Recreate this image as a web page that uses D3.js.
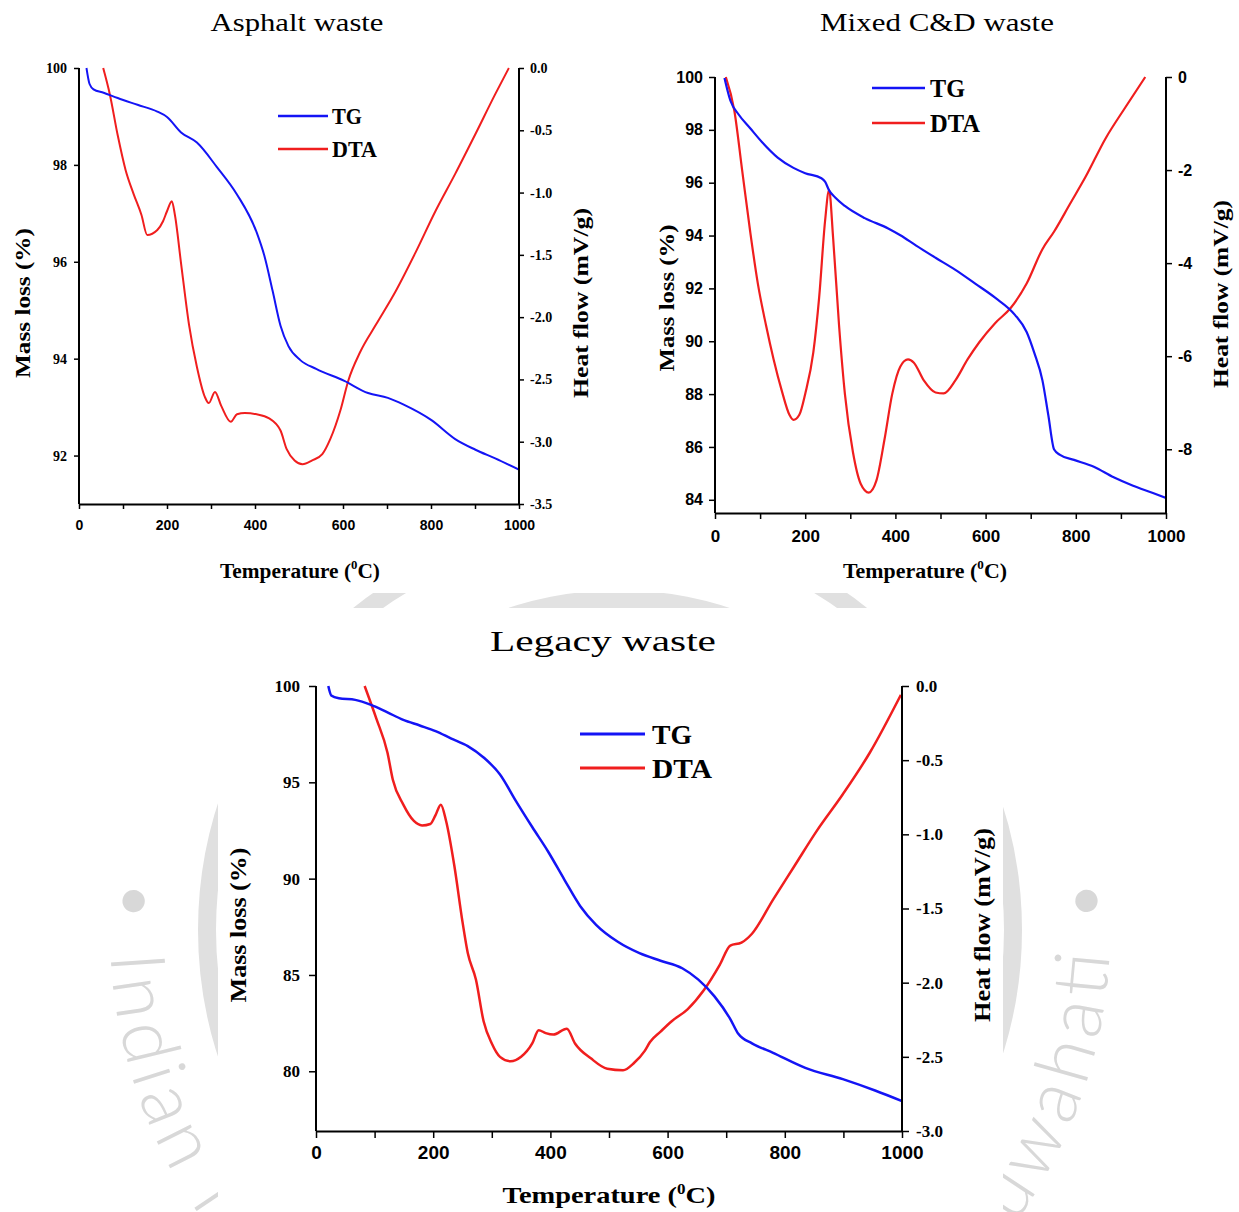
<!DOCTYPE html>
<html>
<head>
<meta charset="utf-8">
<script src="https://cdn.jsdelivr.net/npm/d3@7"></script>
<style>
  body { margin: 0; background: #fff; }
  svg { display: block; }
</style>
</head>
<body>
<svg id="fig" width="1239" height="1212"></svg>
<script>
// ---- data ----
var tempTicks = [0, 200, 400, 600, 800, 1000];
var tempMinor = [0, 100, 200, 300, 400, 500, 600, 700, 800, 900, 1000];

// Asphalt waste
var asphaltMassTicks = [92, 94, 96, 98, 100];
var asphaltHeatTicks = [0, -0.5, -1.0, -1.5, -2.0, -2.5, -3.0, -3.5];
var asphaltTgT = [17, 24, 33, 56, 88, 133, 178, 200, 232, 268, 313, 359, 404, 422, 440, 458, 476, 503, 539, 603, 657, 702, 738, 801, 855, 901, 946, 1000];
var asphaltTg = [100.0, 99.67, 99.56, 99.49, 99.38, 99.24, 99.10, 98.99, 98.67, 98.46, 97.96, 97.39, 96.60, 96.1, 95.4, 94.68, 94.26, 93.97, 93.79, 93.54, 93.29, 93.19, 93.05, 92.73, 92.34, 92.12, 91.94, 91.71];
var asphaltDtaT = [55, 70, 88, 106, 124, 142, 155, 178, 191, 200, 211, 218, 232, 250, 268, 286, 295, 309, 323, 345, 359, 377, 404, 431, 458, 472, 490, 508, 530, 553, 571, 594, 612, 639, 675, 720, 765, 810, 855, 901, 946, 977];
var asphaltDta = [0, -0.21, -0.54, -0.82, -1.01, -1.18, -1.34, -1.30, -1.23, -1.15, -1.07, -1.18, -1.57, -2.06, -2.40, -2.64, -2.69, -2.60, -2.71, -2.84, -2.78, -2.77, -2.78, -2.81, -2.91, -3.06, -3.15, -3.18, -3.15, -3.10, -2.98, -2.75, -2.51, -2.28, -2.06, -1.79, -1.48, -1.15, -0.85, -0.53, -0.21, 0.0];

// Mixed C&D waste
var mixedMassTicks = [84, 86, 88, 90, 92, 94, 96, 98, 100];
var mixedHeatTicks = [0, -2, -4, -6, -8];
var mixedTgT = [21, 34, 52, 78, 104, 139, 174, 200, 236, 244, 253, 266, 288, 332, 384, 411, 446, 489, 533, 577, 621, 665, 691, 708, 726, 739, 752, 765, 796, 840, 884, 927, 971, 1000];
var mixedTg = [99.96, 99.11, 98.59, 98.06, 97.54, 96.95, 96.56, 96.36, 96.17, 96.04, 95.71, 95.45, 95.12, 94.66, 94.27, 94.01, 93.62, 93.16, 92.70, 92.18, 91.65, 91.00, 90.35, 89.56, 88.52, 87.21, 85.90, 85.70, 85.51, 85.25, 84.85, 84.53, 84.26, 84.07];
var mixedDtaT = [24, 43, 60, 78, 95, 113, 130, 148, 165, 174, 187, 200, 218, 231, 244, 253, 262, 275, 288, 306, 323, 341, 358, 376, 393, 411, 428, 441, 463, 489, 507, 533, 560, 586, 621, 656, 691, 726, 752, 787, 822, 866, 910, 954];
var mixedDta = [0, -0.73, -1.99, -3.32, -4.44, -5.33, -6.07, -6.74, -7.26, -7.37, -7.26, -6.81, -5.92, -4.73, -3.10, -2.43, -3.47, -5.33, -6.81, -8.07, -8.74, -8.93, -8.67, -7.78, -6.81, -6.22, -6.07, -6.14, -6.52, -6.78, -6.80, -6.52, -6.07, -5.70, -5.29, -4.96, -4.44, -3.70, -3.32, -2.73, -2.14, -1.32, -0.65, 0];

// Legacy waste
var legacyMassTicks = [80, 85, 90, 95, 100];
var legacyHeatTicks = [0, -0.5, -1.0, -1.5, -2.0, -2.5, -3.0];
var legacyTgT = [21, 26, 39, 67, 94, 122, 149, 177, 204, 231, 259, 286, 314, 341, 369, 396, 424, 451, 478, 515, 552, 588, 625, 652, 680, 707, 721, 744, 780, 835, 899, 954, 1000];
var legacyTg = [100, 99.51, 99.36, 99.28, 99.02, 98.63, 98.24, 97.95, 97.66, 97.27, 96.88, 96.29, 95.41, 94.04, 92.68, 91.41, 89.94, 88.57, 87.60, 86.72, 86.13, 85.74, 85.35, 84.77, 83.89, 82.71, 81.93, 81.45, 80.96, 80.18, 79.59, 79.00, 78.45];
var legacyDtaT = [83, 103, 122, 131, 149, 167, 181, 195, 204, 213, 222, 236, 250, 259, 273, 286, 300, 314, 332, 350, 369, 380, 392, 405, 428, 442, 469, 497, 524, 543, 561, 570, 588, 607, 634, 662, 689, 707, 726, 744, 780, 817, 854, 899, 945, 998];
var legacyDta = [0, -0.22, -0.45, -0.63, -0.80, -0.91, -0.94, -0.93, -0.87, -0.80, -0.91, -1.21, -1.59, -1.80, -1.98, -2.26, -2.41, -2.50, -2.53, -2.50, -2.41, -2.32, -2.34, -2.35, -2.31, -2.41, -2.51, -2.58, -2.59, -2.54, -2.46, -2.40, -2.33, -2.26, -2.18, -2.05, -1.88, -1.75, -1.73, -1.67, -1.44, -1.21, -0.98, -0.73, -0.45, -0.06];

var SERIF = '"Liberation Serif", "Times New Roman", serif';
var SANS = '"Liberation Sans", Arial, sans-serif';
var BLUE = '#1414f5', RED = '#f01e1e';

var svg = d3.select('#fig');

// squeeze/stretch a text element horizontally so it spans w pixels
function fit(text, w) {
    var cur = text.node().getComputedTextLength();
    if (cur > 0) text.attr('transform', 'scale(' + (w / cur) + ',1)');
    return text;
}

function label(parent, str, x, y, opts) {
    var g = parent.append('g').attr('transform', 'translate(' + x + ',' + y + ')' + (opts.rotate ? ' rotate(' + opts.rotate + ')' : ''));
    var t = g.append('text')
        .attr('text-anchor', opts.anchor || 'middle')
        .attr('dy', '0.35em')
        .attr('font-family', opts.family || SERIF)
        .attr('font-weight', opts.weight || 'bold')
        .attr('font-size', opts.size)
        .attr('fill', '#000');
    if (opts.degree) {
        t.append('tspan').text('Temperature (');
        t.append('tspan').attr('font-size', opts.size * 0.6).attr('dy', -opts.size * 0.4).text('0');
        t.append('tspan').attr('dy', opts.size * 0.4).text('C)');
    } else {
        t.text(str);
    }
    if (opts.width) fit(t, opts.width);
    return t;
}

function drawWatermark() {
    var wm = svg.append('g');
    var cx = 610, cy = 930, r = 500, a = 6 * Math.PI / 180;
    // outer band of the seal and the top of its central emblem
    wm.append('circle').attr('cx', cx).attr('cy', cy).attr('r', 403)
        .attr('fill', 'none').attr('stroke', '#e0e0e0').attr('stroke-width', 18);
    wm.append('circle').attr('cx', 619).attr('cy', 940).attr('r', 350).attr('fill', '#e2e2e2');
    var x0 = cx - r * Math.cos(a), y0 = cy - r * Math.sin(a);
    var x1 = cx + r * Math.cos(a);
    svg.append('defs').append('path').attr('id', 'ring')
        .attr('d', 'M' + x0 + ',' + y0 + ' A' + r + ',' + r + ' 0 1 0 ' + x1 + ',' + y0);
    wm.append('text')
        .attr('font-family', 'Lato, "Open Sans", sans-serif')
        .attr('font-weight', 300)
        .attr('font-size', 76)
        .attr('fill', '#d8d8d8')
        .append('textPath').attr('href', '#ring')
        .attr('textLength', r * (Math.PI + 2 * a))
        .attr('lengthAdjust', 'spacing')
        .text('\u2022 Indian Institute of Technology Guwahati \u2022');
    // white backgrounds of the pasted figures
    svg.append('rect').attr('x', 0).attr('y', 0).attr('width', 1239).attr('height', 593).attr('fill', '#fff');
    svg.append('rect').attr('x', 218).attr('y', 608).attr('width', 785).attr('height', 604).attr('fill', '#fff');
}

function drawPanel(p) {
    var b = p.box;
    var g = svg.append('g');
    var x = d3.scaleLinear().domain([0, 1000]).range([b.l, b.r]);
    var yM = d3.scaleLinear().domain(p.massDomain).range([b.b, b.t]);
    var yH = d3.scaleLinear().domain(p.heatDomain).range([b.b, b.t]);

    label(g, p.title, p.titleX, p.titleY, {size: p.titleSize, weight: 'normal', width: p.titleW});

    var clipId = 'clip' + p.id;
    g.append('clipPath').attr('id', clipId).append('rect')
        .attr('x', b.l).attr('y', b.t - 2).attr('width', b.r - b.l).attr('height', b.b - b.t + 2);

    var lineM = d3.line().x(function(d) { return x(d[0]); }).y(function(d) { return yM(d[1]); }).curve(d3.curveMonotoneX);
    var lineH = d3.line().x(function(d) { return x(d[0]); }).y(function(d) { return yH(d[1]); }).curve(d3.curveMonotoneX);

    var plot = g.append('g').attr('clip-path', 'url(#' + clipId + ')');
    plot.append('path').datum(d3.zip(p.dtaT, p.dta)).attr('d', lineH)
        .attr('fill', 'none').attr('stroke', RED).attr('stroke-width', p.lw).attr('stroke-linejoin', 'round');
    plot.append('path').datum(d3.zip(p.tgT, p.tg)).attr('d', lineM)
        .attr('fill', 'none').attr('stroke', BLUE).attr('stroke-width', p.lw).attr('stroke-linejoin', 'round');

    // axes
    var ax = g.append('g').attr('transform', 'translate(0,' + b.b + ')')
        .call(d3.axisBottom(x).tickValues(tempMinor).tickSize(p.tick).tickSizeOuter(0).tickPadding(p.xPad)
            .tickFormat(function(d) { return d % 200 === 0 ? d : ''; }));
    var al = g.append('g').attr('transform', 'translate(' + b.l + ',0)')
        .call(d3.axisLeft(yM).tickValues(p.massTicks).tickSize(p.tick).tickSizeOuter(0).tickPadding(p.yPad)
            .tickFormat(function(d) { return String(d); }));
    var ar = g.append('g').attr('transform', 'translate(' + b.r + ',0)')
        .call(d3.axisRight(yH).tickValues(p.heatTicks).tickSize(p.tick).tickSizeOuter(0).tickPadding(p.hPad)
            .tickFormat(p.heatFmt));
    [ax, al, ar].forEach(function(a) {
        a.select('.domain').attr('stroke-width', 2);
        a.selectAll('.tick line').attr('stroke-width', 1.5);
        a.selectAll('text').attr('font-weight', 'bold').attr('fill', '#000');
    });
    ax.selectAll('text').attr('font-family', p.xFont).attr('font-size', p.xSize);
    al.selectAll('text').attr('font-family', p.yFont).attr('font-size', p.ySize);
    ar.selectAll('text').attr('font-family', p.yFont).attr('font-size', p.ySize);
    // vertical domains run the full height of the plot box
    al.select('.domain').attr('d', 'M0,' + b.t + 'V' + b.b);
    ar.select('.domain').attr('d', 'M0,' + b.t + 'V' + b.b);

    label(g, 'Mass loss (%)', p.yLab[0], p.yLab[1], {rotate: -90, size: p.labSize, width: p.yLab[2]});
    label(g, 'Heat flow (mV/g)', p.hLab[0], p.hLab[1], {rotate: -90, size: p.labSize, width: p.hLab[2]});
    label(g, '', p.xLab[0], p.xLab[1], {degree: true, size: p.labSize, width: p.xLab[2]});

    // legend
    var L = p.legend;
    [['TG', BLUE, L.y1, L.wTG], ['DTA', RED, L.y2, L.wDTA]].forEach(function(e) {
        g.append('line').attr('x1', L.x1).attr('x2', L.x2).attr('y1', e[2]).attr('y2', e[2])
            .attr('stroke', e[1]).attr('stroke-width', p.lw + 0.5);
        label(g, e[0], L.tx, e[2], {anchor: 'start', size: L.size, width: e[3]});
    });
}

drawWatermark();

drawPanel({
    id: 1, title: 'Asphalt waste', titleX: 297, titleY: 22, titleW: 173, titleSize: 26,
    box: {l: 79, r: 519, t: 68, b: 504},
    massDomain: [91, 100], heatDomain: [-3.5, 0],
    massTicks: asphaltMassTicks, heatTicks: asphaltHeatTicks,
    heatFmt: function(d) { return d.toFixed(1); },
    tgT: asphaltTgT, tg: asphaltTg, dtaT: asphaltDtaT, dta: asphaltDta,
    tick: 5, xPad: 11, yPad: 7, hPad: 6,
    xFont: SANS, xSize: 14, yFont: SERIF, ySize: 14,
    labSize: 22, yLab: [22, 303, 150], hLab: [580, 303, 190], xLab: [300, 570, 160],
    legend: {x1: 278, x2: 328, y1: 116, y2: 149, tx: 332, wTG: 30, wDTA: 45, size: 24},
    lw: 2
});

drawPanel({
    id: 2, title: 'Mixed C&D waste', titleX: 937, titleY: 22, titleW: 234, titleSize: 26,
    box: {l: 715, r: 1166, t: 77, b: 513},
    massDomain: [83.5, 100], heatDomain: [-9.37, 0],
    massTicks: mixedMassTicks, heatTicks: mixedHeatTicks,
    heatFmt: function(d) { return String(d); },
    tgT: mixedTgT, tg: mixedTg, dtaT: mixedDtaT, dta: mixedDta,
    tick: 6, xPad: 11, yPad: 6, hPad: 6,
    xFont: SANS, xSize: 17, yFont: SANS, ySize: 16,
    labSize: 22, yLab: [666, 298, 147], hLab: [1220, 294, 188], xLab: [925, 570, 164],
    legend: {x1: 872, x2: 925, y1: 88, y2: 123, tx: 930, wTG: 35, wDTA: 50, size: 25},
    lw: 2.2
});

drawPanel({
    id: 3, title: 'Legacy waste', titleX: 603, titleY: 640, titleW: 226, titleSize: 30,
    box: {l: 316, r: 902, t: 686, b: 1131},
    massDomain: [76.9, 100], heatDomain: [-3, 0],
    massTicks: legacyMassTicks, heatTicks: legacyHeatTicks,
    heatFmt: function(d) { return d.toFixed(1); },
    tgT: legacyTgT, tg: legacyTg, dtaT: legacyDtaT, dta: legacyDta,
    tick: 7, xPad: 8, yPad: 9, hPad: 7,
    xFont: SANS, xSize: 19, yFont: SERIF, ySize: 17,
    labSize: 24, yLab: [238, 925, 155], hLab: [982, 925, 194], xLab: [609, 1195, 213],
    legend: {x1: 580, x2: 645, y1: 734, y2: 768, tx: 652, wTG: 40, wDTA: 60, size: 28},
    lw: 2.5
});
</script>
</body>
</html>
